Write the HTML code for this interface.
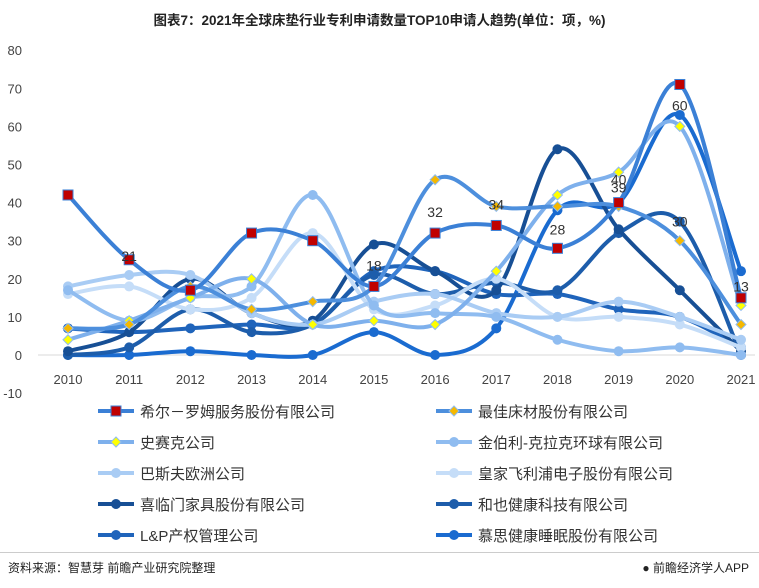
<!DOCTYPE html>
<html><head><meta charset="utf-8"><style>
body{margin:0;background:#fff;font-family:"Liberation Sans","Noto Sans CJK SC",sans-serif;}
#wrap{position:relative;width:759px;height:588px;overflow:hidden;}
.title{position:absolute;left:0;top:9px;width:759px;text-align:center;font-size:13.5px;font-weight:bold;color:#222;}
.src{position:absolute;left:8px;top:559px;font-size:12px;color:#222;}
.brand{position:absolute;right:10px;top:559px;font-size:12px;color:#222;}
.line{position:absolute;left:0;top:552px;width:759px;border-top:1px solid #ccc;}
</style></head><body>
<div id="wrap">
<div class="title">图表7：2021年全球床垫行业专利申请数量TOP10申请人趋势(单位：项，%)</div>
<svg id="svg" width="759" height="588" style="position:absolute;left:0;top:0"></svg>
<div class="line"></div>
<div class="src">资料来源：智慧芽 前瞻产业研究院整理</div>
<div class="brand">● 前瞻经济学人APP</div>
</div>
<script>
const categories=["2010","2011","2012","2013","2014","2015","2016","2017","2018","2019","2020","2021"];
const yTicks=[-10,0,10,20,30,40,50,60,70,80];
const seriesNames=["希尔－罗姆服务股份有限公司","最佳床材股份有限公司","史赛克公司","金伯利-克拉克环球有限公司","巴斯夫欧洲公司","皇家飞利浦电子股份有限公司","喜临门家具股份有限公司","和也健康科技有限公司","L&P产权管理公司","慕思健康睡眠股份有限公司"];
const s1=[42,25,17,32,30,18,32,34,28,40,71,15];
const s2=[7,8,18,12,14,18,46,39,39,39,30,8];
const s3=[4,9,15,20,8,9,8,22,42,48,60,13];
const s4=[17,9,15,18,42,13,11,10,4,1,2,0];
const s5=[18,21,21,11,8,14,16,11,10,14,10,4];
const s6=[16,18,12,15,32,12,13,20,10,10,8,2];
const s7=[1,6,20,11,9,29,22,17,54,33,17,1];
const s8=[0,2,12,6,8,21,16,19,17,32,35,0];
const s9=[7,6,7,8,8,22,22,16,16,12,10,2];
const s10=[0,0,1,0,0,6,0,7,38,40,63,22];
const labelCat=[1,5,6,7,8,9,9,10,10,11];
const labelY=[26,23.5,37.5,39.5,33,44,46,65.5,35,18];
const labelText=["21","18","32","34","28","39","40","60","30","13"];
const data=[s1,s2,s3,s4,s5,s6,s7,s8,s9,s10];
const colors=["#3b80d6","#4d8fdd","#7eb0ec","#8fbcf0","#a9ccf4","#c5ddf8","#174f95","#1d5dab","#1f64bb","#1a6bd0"];
const markers=["sq","dia","dia","c","c","c","c","c","c","c"];
const mfill=["#c00000","#f5b800","#ffff00"];
const svg=document.getElementById('svg');const NS="http://www.w3.org/2000/svg";
const x0=68,dx=(741-68)/11;
function xs(i){return x0+i*dx;}
function ys(v){return 355-v*3.81;}
function mk(t,a,p){const e=document.createElementNS(NS,t);for(const k in a)e.setAttribute(k,a[k]);(p||svg).appendChild(e);return e;}
yTicks.forEach(t=>{const tx=mk('text',{x:22,y:ys(t)+5,'text-anchor':'end','font-size':13,fill:'#444'});tx.textContent=t;

});
const ax=mk('line',{x1:38,x2:755,y1:ys(0),y2:ys(0),stroke:'#d9d9d9'});


categories.forEach((c,i)=>{const tx=mk('text',{x:xs(i),y:384,'text-anchor':'middle','font-size':13,fill:'#444'});tx.textContent=c;

});
function path(vals){const p=vals.map((v,i)=>[xs(i),ys(v)]);let d="M"+p[0][0]+","+p[0][1];
for(let i=0;i<p.length-1;i++){const a=p[i-1]||p[i],b=p[i],c=p[i+1],e=p[i+2]||c;const t=6;
d+=` C${b[0]+(c[0]-a[0])/t},${b[1]+(c[1]-a[1])/t} ${c[0]-(e[0]-b[0])/t},${c[1]-(e[1]-b[1])/t} ${c[0]},${c[1]}`;}return d;}
function marker(type,x,y,i,g){let m;
if(type=="sq")m=mk('rect',{x:x-5,y:y-5,width:10,height:10,fill:mfill[0],stroke:'#3b80d6','stroke-width':1},g);
else if(type=="dia")m=mk('path',{d:`M${x},${y-5}L${x+5},${y}L${x},${y+5}L${x-5},${y}Z`,fill:mfill[i],stroke:'#8fbcf0','stroke-width':1},g);
else m=mk('circle',{cx:x,cy:y,r:5,fill:colors[i]},g);return m;}
for(let i=data.length-1;i>=0;i--){const g=mk('g',{});


const l=mk('path',{d:path(data[i]),fill:'none',stroke:colors[i],'stroke-width':4},g);


data[i].forEach((v,j)=>{const m=marker(markers[i],xs(j),ys(v),i,g);

});}
labelCat.forEach((c,k)=>{const t=mk('text',{x:xs(c),y:ys(labelY[k])+5,'text-anchor':'middle','font-size':14,fill:'#333'});t.textContent=labelText[k];

});
seriesNames.forEach((n,i)=>{const col=i%2,row=Math.floor(i/2);const lx=col?436:98,ly=411+row*31;const g=mk('g',{});


mk('line',{x1:lx,x2:lx+36,y1:ly,y2:ly,stroke:colors[i],'stroke-width':4},g);marker(markers[i],lx+18,ly,i,g);
const t=mk('text',{x:lx+42,y:ly+6,'font-size':15,fill:'#333'},g);t.textContent=n;});
</script></body></html>
